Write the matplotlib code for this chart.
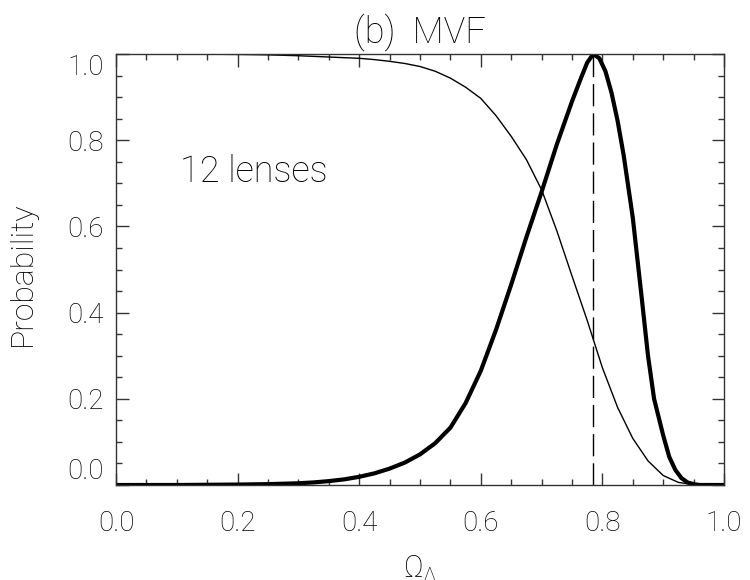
import matplotlib
matplotlib.use("Agg")
import matplotlib.pyplot as plt
from matplotlib.ticker import MultipleLocator, FormatStrFormatter

plt.rcParams['font.family'] = ['Roboto', 'DejaVu Sans']
plt.rcParams['font.weight'] = 'light'
plt.rcParams['axes.titleweight'] = 'light'
plt.rcParams['axes.labelweight'] = 'light'
plt.rcParams['mathtext.fontset'] = 'custom'
plt.rcParams['mathtext.rm'] = 'Roboto:light'
plt.rcParams['mathtext.it'] = 'Roboto:light'

# thin curve
thin_x = [0.0, 0.1, 0.2, 0.25, 0.3, 0.35, 0.4, 0.425, 0.45, 0.475, 0.5, 0.525, 0.55,
          0.575, 0.6, 0.625, 0.65, 0.675, 0.7, 0.725, 0.75, 0.775, 0.8, 0.825, 0.85,
          0.875, 0.9, 0.925, 0.95, 0.975, 1.0]
thin_y = [1.0, 1.0, 0.999, 0.998, 0.996, 0.993, 0.990, 0.987, 0.983, 0.978, 0.971,
          0.960, 0.944, 0.923, 0.897, 0.857, 0.809, 0.755, 0.685, 0.590, 0.485, 0.382,
          0.272, 0.180, 0.108, 0.056, 0.022, 0.006, 0.001, 0.0, 0.0]

# thick curve
thick_x = [0.0, 0.1, 0.2, 0.25, 0.3, 0.325, 0.35, 0.375, 0.4, 0.425, 0.45, 0.475,
           0.5, 0.525, 0.55, 0.575, 0.6, 0.625, 0.65, 0.675, 0.7, 0.725, 0.75,
           0.765, 0.775, 0.785, 0.795, 0.805, 0.815, 0.825, 0.835, 0.85, 0.865,
           0.875, 0.885, 0.9, 0.91, 0.92, 0.93, 0.94, 0.95, 0.96, 1.0]
thick_y = [0.0, 0.0, 0.001, 0.002, 0.004, 0.006, 0.009, 0.013, 0.019, 0.027, 0.038,
           0.052, 0.071, 0.097, 0.133, 0.190, 0.265, 0.360, 0.465, 0.575, 0.680,
           0.790, 0.890, 0.945, 0.980, 1.0, 0.990, 0.960, 0.910, 0.845, 0.765,
           0.620, 0.430, 0.300, 0.200, 0.115, 0.065, 0.035, 0.016, 0.006, 0.002,
           0.0, 0.0]

peak_x = 0.784

title = "(b)  MVF"
ylabel = "Probability"
xlabel = r"$\mathregular{\Omega_\Lambda}$"
note = "12 lenses"

fig = plt.figure(figsize=(7.5, 5.8), dpi=100)
ax = fig.add_axes([116/750, 1 - 485/580, 608/750, 431/580])

ax.plot(thin_x, thin_y, color='black', lw=1.0, solid_joinstyle='round')
ax.plot(thick_x, thick_y, color='black', lw=3.0, solid_joinstyle='round')
ax.plot([peak_x, peak_x], [0, 1], color='black', lw=1.0, dashes=(16, 5))

ax.set_xlim(0, 1)
ax.set_ylim(0, 1)
ax.xaxis.set_major_locator(MultipleLocator(0.2))
ax.xaxis.set_minor_locator(MultipleLocator(0.05))
ax.yaxis.set_major_locator(MultipleLocator(0.2))
ax.yaxis.set_minor_locator(MultipleLocator(0.05))
ax.xaxis.set_major_formatter(FormatStrFormatter('%.1f'))
ax.yaxis.set_major_formatter(FormatStrFormatter('%.1f'))

ax.tick_params(which='both', direction='in', top=True, right=True, color='#333333', width=1)
ax.tick_params(which='major', length=9)
ax.tick_params(which='minor', length=4.5)
ax.tick_params(axis='x', which='major', pad=18, labelsize=20)
ax.tick_params(axis='y', which='major', pad=9, labelsize=20)
for s in ax.spines.values():
    s.set_color('#333333')
    s.set_linewidth(1.0)

fig.canvas.draw()
for t in ax.yaxis.get_major_ticks():
    loc = t.get_loc()
    if abs(loc - 0.0) < 1e-6:
        t.label1.set_va('bottom')
    elif abs(loc - 1.0) < 1e-6:
        t.label1.set_va('top')

ax.set_title(title, fontsize=26, pad=8, fontweight='light')
ax.set_ylabel(ylabel, fontsize=23, fontweight='light')
ax.yaxis.set_label_coords(-0.13, 0.49)
ax.set_xlabel(xlabel, fontsize=22, labelpad=12)

ax.text(0.105, 0.726, note, fontsize=26, ha='left', va='center', fontweight='light')

fig.savefig("out.png", dpi=100)
